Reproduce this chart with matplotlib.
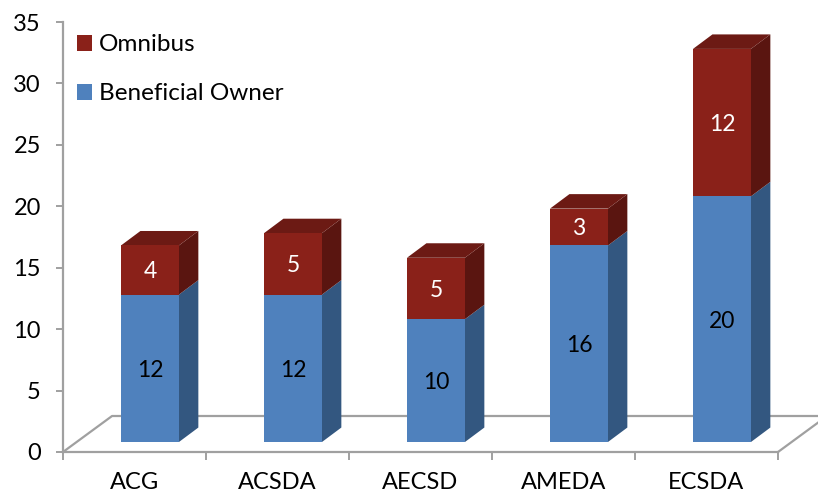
"""Stacked pseudo-3D column chart: Beneficial Owner vs Omnibus per association."""

import matplotlib

matplotlib.use("Agg")
import matplotlib.pyplot as plt
import numpy as np

categories = ["ACG", "ACSDA", "AECSD", "AMEDA", "ECSDA"]
beneficial_owner = [12, 12, 10, 16, 20]
omnibus = [4, 5, 5, 3, 12]
y_ticks = [0, 5, 10, 15, 20, 25, 30, 35]

BLUE = "#4f81bd"
BLUE_SIDE = "#335780"
RED = "#8a2119"
RED_SIDE = "#5a1510"
RED_TOP = "#6c1a14"
AXIS_GREY = "#a0a0a0"

# pseudo-3D offsets, in data units (1 category = 143 px, 1 value = 12.29 px)
BAR_SHIFT = 0.108
BAR_W = 0.405
LIFT = 0.81
DEPTH_X = 0.136
DEPTH_Y = 1.18
FLOOR_X = 0.343
FLOOR_Y = 2.93
LABEL_NUDGE = -0.15


def draw_side(ax, x, y0, y1, color):
    ax.fill(
        [x, x + DEPTH_X, x + DEPTH_X, x],
        [y0, y0 + DEPTH_Y, y1 + DEPTH_Y, y1],
        color=color, lw=0, zorder=3, clip_on=False,
    )


def draw_top(ax, x0, x1, y, color):
    ax.fill(
        [x0, x1, x1 + DEPTH_X, x0 + DEPTH_X],
        [y, y, y + DEPTH_Y, y + DEPTH_Y],
        color=color, lw=0, zorder=3, clip_on=False,
    )


plt.rcParams["font.family"] = ["Lato", "DejaVu Sans"]

fig = plt.figure(figsize=(8.18, 4.95), dpi=100)
ax = fig.add_axes([63 / 818, 1 - 452 / 495, 715 / 818, 430 / 495])

x = np.arange(len(categories)) + BAR_SHIFT
bo = np.array(beneficial_owner)
om = np.array(omnibus)

ax.set_xlim(-0.5, len(categories) - 0.5)
ax.set_ylim(0, 35)

# floor outline behind the bars
floor_l, floor_r = -0.5, len(categories) - 0.5
ax.plot([floor_l, floor_l + FLOOR_X, floor_r + FLOOR_X, floor_r],
        [0, FLOOR_Y, FLOOR_Y, 0],
        color=AXIS_GREY, lw=1.6, zorder=1, clip_on=False)

ax.bar(x, bo, BAR_W, bottom=LIFT, color=BLUE, zorder=4, label="Beneficial Owner")
ax.bar(x, om, BAR_W, bottom=LIFT + bo, color=RED, zorder=4, label="Omnibus")

for xi, b, o in zip(x, bo, om):
    right = xi + BAR_W / 2
    draw_side(ax, right, LIFT, LIFT + b, BLUE_SIDE)
    draw_side(ax, right, LIFT + b, LIFT + b + o, RED_SIDE)
    draw_top(ax, xi - BAR_W / 2, right, LIFT + b + o, RED_TOP)
    ax.text(xi, LIFT + b / 2 + LABEL_NUDGE, str(b), ha="center", va="center",
            fontsize=16.5, color="black", zorder=5)
    ax.text(xi, LIFT + b + o / 2 + LABEL_NUDGE, str(o), ha="center", va="center",
            fontsize=16.5, color="white", zorder=5)

for side in ["top", "right"]:
    ax.spines[side].set_visible(False)
for side in ["left", "bottom"]:
    ax.spines[side].set_color(AXIS_GREY)
    ax.spines[side].set_linewidth(1.6)

ax.set_yticks(y_ticks)
ax.tick_params(axis="y", length=5, width=1.4, color=AXIS_GREY, pad=11, labelsize=17)
for lab in ax.get_yticklabels():
    lab.set_verticalalignment("center_baseline")

# ticks sit between the categories, labels in the middle
ax.set_xticks(np.arange(len(categories) + 1) - 0.5)
ax.set_xticklabels([])
ax.set_xticks(np.arange(len(categories)), minor=True)
ax.set_xticklabels(categories, minor=True)
ax.tick_params(axis="x", which="major", length=6, width=1.4, color=AXIS_GREY)
ax.tick_params(axis="x", which="minor", length=0, pad=14.5, labelsize=17)

handles, labels = ax.get_legend_handles_labels()
ax.legend(handles[::-1], labels[::-1], loc="upper left", bbox_to_anchor=(-0.011, 1.022),
          frameon=False, fontsize=17.5, handlelength=0.62, handleheight=0.62,
          handletextpad=0.3, labelspacing=1.15, borderaxespad=0.5)

fig.savefig("out.png", dpi=100)
